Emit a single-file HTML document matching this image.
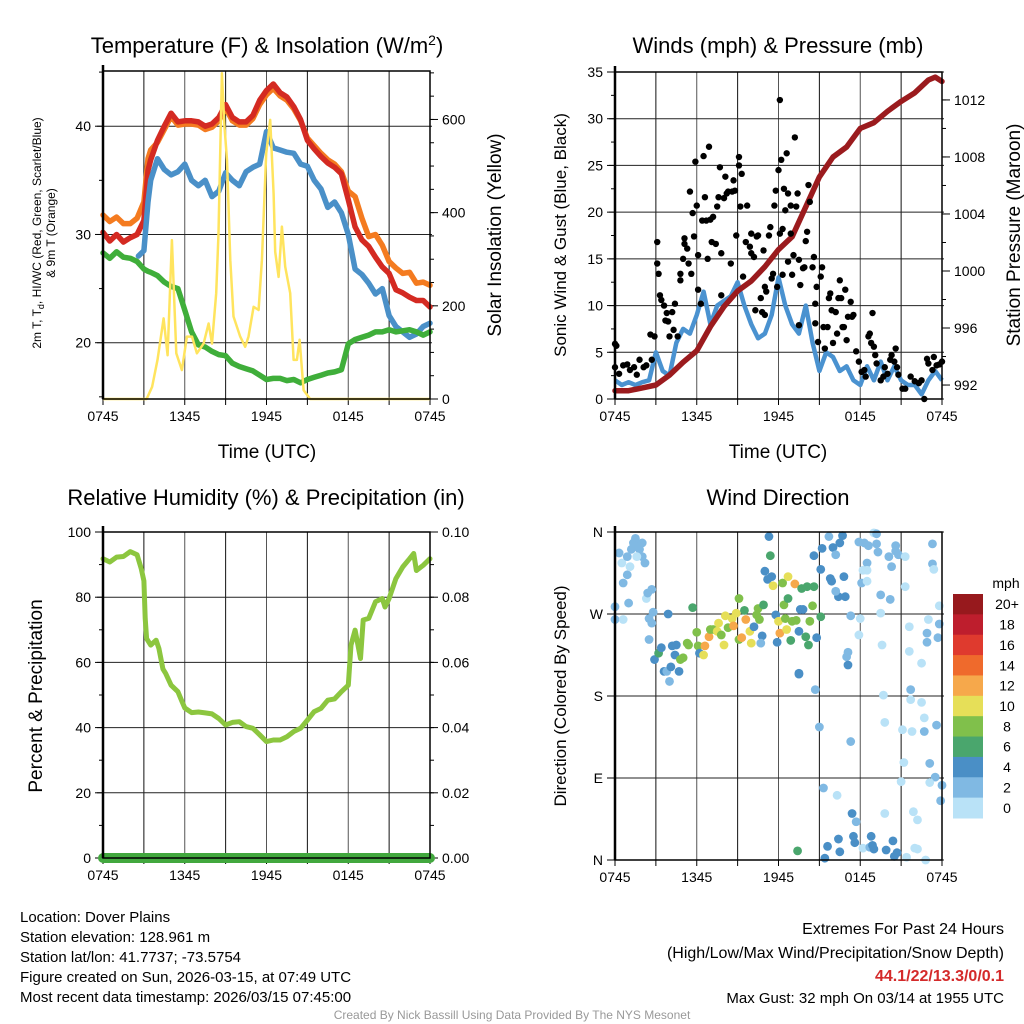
<!DOCTYPE html>
<html><head><meta charset="utf-8"><style>
html,body{margin:0;padding:0;background:#fff;}
svg{display:block;font-family:"Liberation Sans",Arial,sans-serif;}
</style></head><body>
<svg id="chart" width="1024" height="1024" viewBox="0 0 1024 1024" xmlns="http://www.w3.org/2000/svg">
<rect width="1024" height="1024" fill="#fff"/>
<text x="267" y="53" font-size="22" text-anchor="middle">Temperature (F) &amp; Insolation (W/m<tspan dy="-8" font-size="14">2</tspan><tspan dy="8">)</tspan></text>
<text x="778" y="53" font-size="22" text-anchor="middle">Winds (mph) &amp; Pressure (mb)</text>
<text x="266" y="505" font-size="22" text-anchor="middle">Relative Humidity (%) &amp; Precipitation (in)</text>
<text x="778" y="505" font-size="22" text-anchor="middle">Wind Direction</text>
<text x="267" y="458" font-size="19" text-anchor="middle">Time (UTC)</text>
<text x="778" y="458" font-size="19" text-anchor="middle">Time (UTC)</text>
<text transform="translate(41,233) rotate(-90)" font-size="12" text-anchor="middle">2m T, T<tspan dy="3" font-size="9">d</tspan><tspan dy="-3">, HI/WC (Red, Green, Scarlet/Blue)</tspan></text>
<text transform="translate(55,233) rotate(-90)" font-size="12" text-anchor="middle">&amp; 9m T (Orange)</text>
<text transform="translate(501,235) rotate(-90)" font-size="19" text-anchor="middle">Solar Insolation (Yellow)</text>
<text transform="translate(566,235) rotate(-90)" font-size="17" text-anchor="middle">Sonic Wind &amp; Gust (Blue, Black)</text>
<text transform="translate(1020,235) rotate(-90)" font-size="19" text-anchor="middle">Station Pressure (Maroon)</text>
<text transform="translate(42,696) rotate(-90)" font-size="19" text-anchor="middle">Percent &amp; Precipitation</text>
<text transform="translate(566,696) rotate(-90)" font-size="17" text-anchor="middle">Direction (Colored By Speed)</text>
<g font-size="15">
<text x="20" y="922">Location: Dover Plains</text>
<text x="20" y="942">Station elevation: 128.961 m</text>
<text x="20" y="962">Station lat/lon: 41.7737; -73.5754</text>
<text x="20" y="982">Figure created on Sun, 2026-03-15, at 07:49 UTC</text>
<text x="20" y="1002">Most recent data timestamp: 2026/03/15 07:45:00</text>
</g>
<g font-size="16" text-anchor="end">
<text x="1004" y="934">Extremes For Past 24 Hours</text>
<text x="1004" y="958">(High/Low/Max Wind/Precipitation/Snow Depth)</text>
<text x="1004" y="981" font-weight="bold" fill="#d42a2a">44.1/22/13.3/0/0.1</text>
<text x="1004" y="1003" font-size="15">Max Gust: 32 mph On 03/14 at 1955 UTC</text>
</g>
<text x="512" y="1019" font-size="12" fill="#999" text-anchor="middle">Created By Nick Bassill Using Data Provided By The NYS Mesonet</text>
</svg>
<script>
// ---- Temperature panel data ----
const tempHours = [0,0.5,1,1.5,2,2.5,3,3.3,3.5,4,4.5,5,5.5,6,6.5,7,7.5,8,8.5,9,9.5,10,10.5,11,11.5,12,12.5,13,13.5,14,14.5,15,15.5,16,16.5,17,17.5,18,18.5,19,19.5,20,20.5,21,21.5,22,22.5,23,23.5,24];
const temp2m = [30.2,29.4,30,29.3,29.7,30,31.3,35.9,36.9,38.7,40,41.2,40.4,40.5,40.5,40.4,40,40.2,40.8,42,40.8,40.4,40.4,41,42.4,43.3,43.9,43.1,42.7,41.8,40.6,38.7,37.9,37.2,36.6,36.2,35.6,33.2,30.7,29.5,28.9,27.9,27,26.4,24.9,24.6,24.2,23.9,23.9,23.3];
const temp9m = [31.8,31.2,31.6,31,31,31.5,33,37,37.8,38.5,39.7,40.9,40.1,40.2,40.2,40.1,39.7,39.9,40.5,41.7,40.5,40.1,40.1,40.7,42,42.9,43.5,42.8,42.4,41.6,40.5,38.9,38.2,37.5,36.9,36.5,35.8,34,33.5,31.5,29.8,30,29,27.5,26.9,26.4,26.5,25.5,25.6,25.3];
const dewpoint = [28.3,27.8,28.4,27.9,27.8,27.5,26.8,26.6,26.5,26.2,25.6,25.2,25,23,21,19.8,19.6,19.2,18.9,18.8,18.1,17.8,17.6,17.4,17,16.6,16.7,16.7,16.5,16.6,16.3,16.6,16.8,17,17.2,17.3,17.5,19.9,20.3,20.5,20.7,21,21,21.2,21,21.1,21.2,21,20.7,21];
const chillHours = [2.6,3,3.3,3.5,4,4.5,5,5.5,6,6.5,7,7.5,8,8.5,9,9.5,10,10.5,11,11.5,12,12.5,13,13.5,14,14.5,15,15.5,16,16.5,17,17.5,18,18.5,19,19.5,20,20.5,21,21.5,22,22.5,23,23.5,24];
const windChill = [28,28.5,33,35,37,36,35.5,35.8,36.5,35,34.5,35,33.5,34,35.7,35,34.5,35.8,36.2,36.5,39.5,38,37.8,37.6,37.5,36.5,36.3,35,34.2,32.5,33,32,30,26.8,26.3,25.5,24.5,25,22.5,21.5,21,20.5,20.8,21.5,21.8];
const solarHours = [0,3.2,3.6,4.0,4.45,4.74,5.06,5.38,5.79,6.16,6.53,6.89,7.38,7.75,8.0,8.31,8.48,8.73,8.92,9.1,9.34,9.58,10.07,10.44,10.68,11.05,11.42,11.66,11.98,12.27,12.52,12.64,12.89,13.13,13.37,13.74,13.99,14.23,14.43,14.72,15.2,24];
const solarWm2 = [0,0,26,84,173,94,341,98,62,134,134,98,119,162,119,227,355,699,584,513,298,177,134,112,134,198,191,298,527,599,441,316,262,370,284,227,84,84,127,19,0,0];
const tempTicks = [20,30,40];
const solarTicks = [0,200,400,600];
// ---- Wind panel data ----
const windHours = [0,0.5,1,1.5,2,2.5,3,3.5,4,4.5,5,5.5,6,6.5,7,7.5,8,8.5,9,9.5,10,10.5,11,11.5,12,12.5,13,13.5,14,14.5,15,15.5,16,16.5,17,17.5,18,18.5,19,19.5,20,20.5,21,21.5,22,22.5,23,23.5,24];
const windMph = [2,1.5,1.8,1.5,1.8,2,5,3,2.5,6,7.5,7,9,11.5,8,10,10.5,11,12.5,10,8,6.5,7,9,13,10,8,7,10,6,3,5,4.5,3,3.5,2,1.5,3.5,2,4,2,3.5,2,1.5,1.5,0.5,2,3,2];
const gustHours = [0,0.1,0,0.3,0.6,0.9,1.1,1.4,1.6,1.8,2.1,2.3,2.6,2.7,2.9,3.1,3.1,3.2,3.3,3.4,3.6,3.7,3.8,3.9,4.0,4.2,4.3,4.4,4.6,4.8,4.8,5.0,5.1,5.1,5.3,5.4,5.5,5.6,5.7,5.8,5.9,6.0,6.1,6.1,6.3,6.4,6.5,6.6,6.7,6.8,6.9,7.0,7.1,7.2,7.4,7.5,7.6,7.7,7.8,7.8,8.0,8.1,8.2,8.3,8.5,8.6,8.7,8.8,8.9,9.1,9.1,9.2,9.3,9.4,9.6,9.7,9.9,10.0,10.0,10.2,10.3,10.4,10.5,10.7,10.8,10.9,11.0,11.0,11.1,11.3,11.4,11.5,11.6,11.7,11.8,11.9,12.0,12.1,12.1,12.2,12.3,12.3,12.4,12.5,12.6,12.7,12.7,12.9,12.9,13.0,13.1,13.2,13.3,13.4,13.5,13.5,13.6,13.8,13.9,14.0,14.1,14.2,14.3,14.5,14.6,14.7,14.7,14.8,14.9,15.1,15.2,15.3,15.4,15.6,15.7,15.8,15.9,16.0,16.2,16.3,16.4,16.5,16.6,16.7,16.8,16.9,17.0,17.1,17.3,17.4,17.5,17.7,17.9,18.1,18.3,18.4,18.6,18.7,18.8,18.9,19.0,19.1,19.2,19.5,19.7,19.8,20.0,20.2,20.3,20.5,20.6,20.7,20.8,21.1,21.3,21.7,22.0,22.3,22.5,22.7,22.9,23.0,23.3,23.4,23.6,23.8,24.0];
const gustMph = [5.9,5.7,3.4,2.7,3.6,3.7,3.1,3.4,2.6,4.2,3.4,3.6,6.9,4.2,6.7,16.8,14.5,13.4,11.1,10.6,10,8.4,9.2,8.3,6.7,9.3,7.4,10.2,6.7,12.7,13.4,15,16.6,17.2,16.1,14.5,22.2,13.4,19.9,17.4,25.4,20.7,11.7,15.4,10.2,19.1,26,21.6,19.1,15,27,19.2,16.8,19.5,16.6,20.6,21.6,24.8,15.6,11.1,21.5,23.8,22,22.2,14.5,22.2,23.4,22.3,17.5,25.9,25,20.6,24.1,13.1,16.8,20.7,16.3,15.6,17.7,15.2,9.5,17.4,17.5,10.8,9.3,15.9,12,9,11.5,17.5,18.4,12.9,13.4,20.7,22.3,12,24.5,32,17.7,25.6,18.2,13.3,22.5,20.2,26.3,14.7,22,20.7,17.7,13.3,15.4,28,20.6,22,14.9,7.9,12.2,14,14.1,16.9,17.9,22.9,21.1,14.1,15.2,10.2,8.1,12,6.1,13.1,14.1,7.7,5.4,7.7,10.8,11.3,9.5,6,9.3,7,10.8,12.7,10.8,7.7,7.7,11.7,6.3,8.8,10.4,8.8,9,5.1,4,2.9,3.1,2.4,6.7,7,6,9.2,5.6,4.7,3.8,2,2.4,3.4,2.7,4.2,4.7,4,5.4,3.4,2.6,1.1,1.1,2.4,1.9,1.7,2,0,4.3,3.8,3.1,4.5,3.6,3.7,4];
const pressHours = [0,1,2,3,4,5,6,7,8,9,10,11,12,13,14,15,16,17,18,19,20,21,22,23,23.5,24];
const pressMb = [991.6,991.6,991.8,992,992.7,993.6,994.4,996.1,997.5,998.6,999.3,1000.3,1001.5,1002.4,1004.5,1006.6,1008,1008.7,1010,1010.4,1011.2,1011.9,1012.5,1013.4,1013.6,1013.3];
const windTicks = [0,5,10,15,20,25,30,35];
const pressTicks = [992,996,1000,1004,1008,1012];
// ---- Humidity panel data ----
const rhHours = [0,0.5,1,1.5,2,2.5,2.8,3.0,3.1,3.2,3.5,3.9,4.1,4.4,4.6,5,5.5,5.8,6,6.5,7,7.5,8,8.5,9,9.5,10,10.5,11,11.5,12,12.5,13,13.5,14,14.5,15,15.5,16,16.5,17,17.5,18,18.2,18.5,18.9,19.1,19.5,20,20.5,20.7,21,21.5,22,22.5,22.8,23,23.5,24];
const rhPct = [91.8,90.8,92.3,92.5,94,93,88.8,85,73.5,67.3,65.3,66.8,64.3,58,56.6,53,51,48,46,44.6,44.8,44.5,44.2,42.8,40.8,41.6,41.8,40.3,39.8,37.8,35.7,36.2,36.2,37.2,38.8,39.8,42.3,44.9,45.9,48.4,48.8,51,53,65.3,69.9,61.2,73,73.5,78.6,79.6,77,79.6,85.7,89.3,91.8,93.4,88.2,89.8,91.8];
const precipHours = [0,24];
const precipIn = [0,0];
const rhTicks = [0,20,40,60,80,100];
const precipTicks = ["0.00","0.02","0.04","0.06","0.08","0.10"];
// ---- Wind direction data ----
const dirHours = [0,0,0.3,0.5,0.6,0.9,0.6,0.9,1.1,1.0,1.2,1.35,1.5,1.7,2.0,1.8,2.0,2.2,1.6,2.3,2.4,2.7,2.8,2.5,2.7,2.5,2.9,3.2,3.4,3.6,3.8,4.0,4.1,4.2,4.5,4.4,4.7,4.8,5.0,5.3,5.4,3.9,5.7,6.0,6.1,6.2,6.5,6.6,6.9,7.0,7.2,7.5,7.6,7.8,8.0,8.1,8.3,8.6,8.7,8.9,9.1,9.1,9.3,9.5,9.6,9.9,10.0,10.2,10.4,10.6,10.5,10.8,10.7,10.9,11.0,11.2,11.3,11.4,11.5,11.6,11.8,11.9,12.0,12.1,12.3,12.4,12.5,12.6,12.7,12.7,12.9,13.0,13.2,13.3,13.5,13.6,13.7,13.8,14.0,14.1,14.2,14.3,14.5,14.6,14.8,15.1,14.6,15.1,15.2,15.7,16.0,16.2,16.5,16.7,16.4,16.2,15.8,15.9,16.8,16.9,17.3,17.0,17.1,17.1,18.0,18.1,17.9,17.9,18.3,18.6,18.5,18.2,18.5,18.5,19.0,19.2,19.2,19.3,19.5,19.6,19.5,19.7,19.8,19.8,20.1,20.2,20.3,20.6,20.6,20.8,21.3,21.3,21.6,21.6,21.7,21.7,21.8,21.9,22.2,22.5,22.5,22.7,22.7,23.0,22.9,22.9,23.1,23.3,23.3,23.4,23.5,23.6,23.8,23.7,23.8,24.0,23.9,21.2,21.1,21.0,23.1,15.0,14.7,15.3,16.3,16.4,16.5,17.3,17.4,17.7,17.5,17.6,18.2,18.7,18.8,18.9,19.0,19.9,20.4,20.5,20.7,21.4,22.0,22.2,22.8,15.4,15.6,13.4,13.5,13.5];
const dirDeg = [278,264,337,326,264,333,304,313,322,282,341,348,353,346,348,341,333,326,333,287,293,297,272,265,260,242,220,227,233,207,207,196,212,235,236,225,207,220,222,238,236,270,277,250,235,227,225,235,245,253,253,251,260,247,236,268,255,265,257,271,242,287,244,274,264,251,238,256,269,264,276,246,238,280,317,308,355,334,311,301,269,239,262,249,304,280,265,253,311,287,241,262,303,263,251,275,298,275,245,300,236,262,279,300,244,267,334,319,342,355,343,335,348,356,289,295,309,306,311,289,268,223,214,228,265,304,247,349,348,345,326,318,318,306,359,358,347,338,291,236,271,181,151,51,333,286,322,345,339,335,333,300,256,229,187,176,141,53,44,173,216,156,141,264,249,239,106,347,325,319,91,148,259,244,279,82,65,107,143,86,85,146,187,79,71,23,9,130,51,42,26,19,13,14,26,16,12,11,21,4,8,3,13,12,0,2,15,10,205,204];
const dirSpeed = [3,3,3,1,1,3,3,3,1,3,3,3,3,3,3,3,3,3,1,1,3,3,3,3,3,3,5,7,5,5,3,3,5,5,5,5,5,9,9,9,9,5,7,9,9,5,11,13,13,9,9,11,11,9,11,11,9,11,13,11,9,9,13,7,13,11,11,5,9,9,9,5,3,7,5,5,5,7,5,11,5,5,11,13,9,9,9,11,11,7,7,9,13,9,5,5,7,5,7,7,7,9,9,7,5,7,5,5,5,3,5,3,5,5,5,3,5,5,5,5,3,3,5,3,1,3,1,3,3,3,3,1,1,1,1,3,3,3,3,1,1,1,1,1,3,3,3,3,3,3,1,1,1,1,3,1,1,1,1,1,1,1,3,1,3,3,3,3,3,1,3,3,3,3,1,3,3,1,1,1,1,3,3,3,1,5,5,3,5,3,5,5,1,3,5,5,5,5,5,5,5,1,1,1,1,5,5,7,5,5];
const dirTickVals = [0,90,180,270,360];
const dirTickLabels = ["N","E","S","W","N"];
const speedBins = ["20+","18","16","14","12","10","8","6","4","2","0"];
const speedColors = ["#97191d","#be1e2d","#df3a2e","#ef6a2c","#f6a84b","#e6df58","#80c04b","#4aa66d","#4a8fc6","#80b9e3","#b9e2f7"];
const timeTickHours = [0,6,12,18,24];
const timeTickLabels = ["0745","1345","1945","0145","0745"];
</script>
<script>
const NS = "http://www.w3.org/2000/svg";
const svg = document.getElementById('chart');
function mk(tag, attrs, parent){
  const e = document.createElementNS(NS, tag);
  for (const k in attrs) e.setAttribute(k, attrs[k]);
  (parent || svg).appendChild(e);
  return e;
}
function linear(d0,d1,r0,r1){ return v => r0 + (v-d0)/(d1-d0)*(r1-r0); }
function pathFrom(xs, ys, fx, fy){
  let d = "";
  const n = Math.min(xs.length, ys.length);
  for (let i=0;i<n;i++) d += (i?"L":"M") + fx(xs[i]).toFixed(1) + "," + fy(ys[i]).toFixed(1);
  return d;
}
function panel(name){
  const g = mk('g', {});
  
  
  return g;
}
function frame(g, name, x0, x1, y0, y1, fx, hGrid){
  const grid = mk('g', {stroke:'#222','stroke-width':1}, g);
  
  
  for (let h=3; h<24; h+=3){
    const l = mk('line', {x1:fx(h), x2:fx(h), y1:y0, y2:y1, stroke: (h%6===0)?'#555':'#111'}, grid);
    
    
  }
  hGrid.forEach(y => {
    const l = mk('line', {x1:x0-6, x2:x1+2, y1:y, y2:y}, grid);
    
    
  });
  const tg = mk('g', {'font-size':14, 'text-anchor':'middle'}, g);
  
  
  for (let h=0; h<=24; h+=3){
    const t = mk('line', {x1:fx(h), x2:fx(h), y1:y1, y2:y1+6, stroke:'#000'}, tg);
    
    
  }
  timeTickHours.forEach((h,i) => {
    const t = mk('text', {x:fx(h), y:y1+22}, tg);
    t.textContent = timeTickLabels[i];
    
    
  });
}
function border(g, name, x0, x1, y0, y1){
  const r = mk('rect', {x:x0, y:y0, width:x1-x0, height:y1-y0, fill:'none', stroke:'#000', 'stroke-width':1.5}, g);
  
  
  const l = mk('line', {x1:x0, x2:x0, y1:y0-6, y2:y1, stroke:'#000','stroke-width':2.5}, g);
  
  
}
function yAxis(g, name, side, x, ticks, labels, fy, minor){
  const ag = mk('g', {'font-size':14, 'text-anchor': side==='left'?'end':'start'}, g);
  
  
  const dir = side==='left' ? -1 : 1;
  minor.forEach(v => {
    const t = mk('line', {x1:x, x2:x+dir*4, y1:fy(v), y2:fy(v), stroke:'#000'}, ag);
    
    
  });
  ticks.forEach((v,i) => {
    const t = mk('line', {x1:x, x2:x+dir*8, y1:fy(v), y2:fy(v), stroke:'#000'}, ag);
    
    
    const tx = mk('text', {x:x+dir*12, y:fy(v)+5}, ag);
    tx.textContent = labels[i];
    
    
  });
}
function range(a,b,s){ const r=[]; for(let v=a; v<=b+1e-9; v+=s) r.push(+v.toFixed(4)); return r; }

// ===== Panel 1: Temperature =====
{
  const X0=103, X1=430, Y0=71, Y1=399;
  const fx = linear(0,24,X0,X1);
  const fy = linear(14.8,45.1,Y1,Y0);
  const fs = linear(0,704,Y1,Y0);
  const g = panel('temperature');
  frame(g,'temperature',X0,X1,Y0,Y1,fx,tempTicks.map(fy));
  yAxis(g,'temperature-y-axis','left',X0,tempTicks,tempTicks.map(String),fy,[15,25,35,45]);
  yAxis(g,'insolation-y-axis','right',X1,solarTicks,solarTicks.map(String),fs,range(0,700,50));
  const series = [
    [tempHours,temp9m,'#f47b20','nine-meter-temp-line'],
    [tempHours,temp2m,'#d42a22','two-meter-temp-line'],
    [chillHours,windChill,'#4a90c8','heat-index-wind-chill-line'],
    [tempHours,dewpoint,'#3fae3a','dewpoint-line']
  ];
  series.forEach(s => {
    const p = mk('path', {d:pathFrom(s[0],s[1],fx,fy), fill:'none', stroke:s[2], 'stroke-width':5.5, 'stroke-linejoin':'round','stroke-linecap':'round'}, g);
    
    
  });
  const sp = mk('path', {d:pathFrom(solarHours,solarWm2,fx,fs), fill:'none', stroke:'#ffe45e', 'stroke-width':2.5, 'stroke-linejoin':'round'}, g);
  
  
  border(g,'temperature',X0,X1,Y0,Y1);
}
// ===== Panel 2: Winds =====
{
  const X0=615, X1=942, Y0=72, Y1=399;
  const fx = linear(0,24,X0,X1);
  const fy = linear(0,35,Y1,Y0);
  const fp = linear(991.02,1013.96,Y1,Y0);
  const g = panel('winds');
  frame(g,'winds',X0,X1,Y0,Y1,fx,windTicks.map(fy));
  yAxis(g,'wind-y-axis','left',X0,windTicks,windTicks.map(String),fy,range(2.5,32.5,5));
  yAxis(g,'pressure-y-axis','right',X1,pressTicks,pressTicks.map(String),fp,range(992,1012,2));
  const wl = mk('path', {d:pathFrom(windHours,windMph,fx,fy), fill:'none', stroke:'#4a92d0','stroke-width':4.5,'stroke-linejoin':'round'}, g);
  
  
  const pl = mk('path', {d:pathFrom(pressHours,pressMb,fx,fp), fill:'none', stroke:'#9b1b1e','stroke-width':5.5,'stroke-linejoin':'round','stroke-linecap':'round'}, g);
  
  
  const gg = mk('g', {fill:'#000'}, g);
  
  
  const n = Math.min(gustHours.length, gustMph.length);
  for (let i=0;i<n;i++){
    const c = mk('circle', {cx:fx(gustHours[i]), cy:fy(gustMph[i]), r:3.2}, gg);
    
    
  }
  border(g,'winds',X0,X1,Y0,Y1);
}
// ===== Panel 3: Humidity =====
{
  const X0=103, X1=430, Y0=532, Y1=858;
  const fx = linear(0,24,X0,X1);
  const fy = linear(0,100,Y1,Y0);
  const fq = linear(0,0.1,Y1,Y0);
  const g = panel('humidity');
  frame(g,'humidity',X0,X1,Y0,Y1,fx,rhTicks.map(fy));
  yAxis(g,'humidity-y-axis','left',X0,rhTicks,rhTicks.map(String),fy,range(10,90,20));
  yAxis(g,'precip-y-axis','right',X1,precipTicks.map(Number),precipTicks,fq,range(0.01,0.09,0.01));
  const rl = mk('path', {d:pathFrom(rhHours,rhPct,fx,fy), fill:'none', stroke:'#8cc63f','stroke-width':5,'stroke-linejoin':'round','stroke-linecap':'round'}, g);
  
  
  const pl = mk('path', {d:pathFrom(precipHours,precipIn,fx,fq), fill:'none', stroke:'#42a83e','stroke-width':10,'stroke-linecap':'round'}, g);
  
  
  border(g,'humidity',X0,X1,Y0,Y1);
}
// ===== Panel 4: Wind direction =====
{
  const X0=615, X1=942, Y0=532, Y1=860;
  const fx = linear(0,24,X0,X1);
  const fy = linear(0,360,Y1,Y0);
  const g = panel('wind-direction');
  frame(g,'wind-direction',X0,X1,Y0,Y1,fx,dirTickVals.map(fy));
  yAxis(g,'direction-y-axis','left',X0,dirTickVals,dirTickLabels,fy,[]);
  const dg = mk('g', {}, g);
  
  
  const n = Math.min(dirHours.length, dirDeg.length, dirSpeed.length);
  for (let i=0;i<n;i++){
    const bin = Math.min(10, Math.floor(dirSpeed[i]/2));
    const c = mk('circle', {cx:fx(dirHours[i]), cy:fy(dirDeg[i]), r:4.4, fill:speedColors[10-bin]}, dg);
    
    
  }
  border(g,'wind-direction',X0,X1,Y0,Y1);
  const lg = mk('g', {'font-size':14}, g);
  
  
  const unit = mk('text', {x:1006, y:588, 'text-anchor':'middle'}, lg);
  unit.textContent = 'mph';
  
  
  const bh = 224/speedBins.length;
  speedBins.forEach((lab,i) => {
    const r = mk('rect', {x:953, y:594+i*bh, width:30, height:bh+0.5, fill:speedColors[i]}, lg);
    
    
    const t = mk('text', {x:1007, y:594+i*bh+bh/2+5, 'text-anchor':'middle'}, lg);
    t.textContent = lab;
    
    
  });
}
</script>
</body></html>
